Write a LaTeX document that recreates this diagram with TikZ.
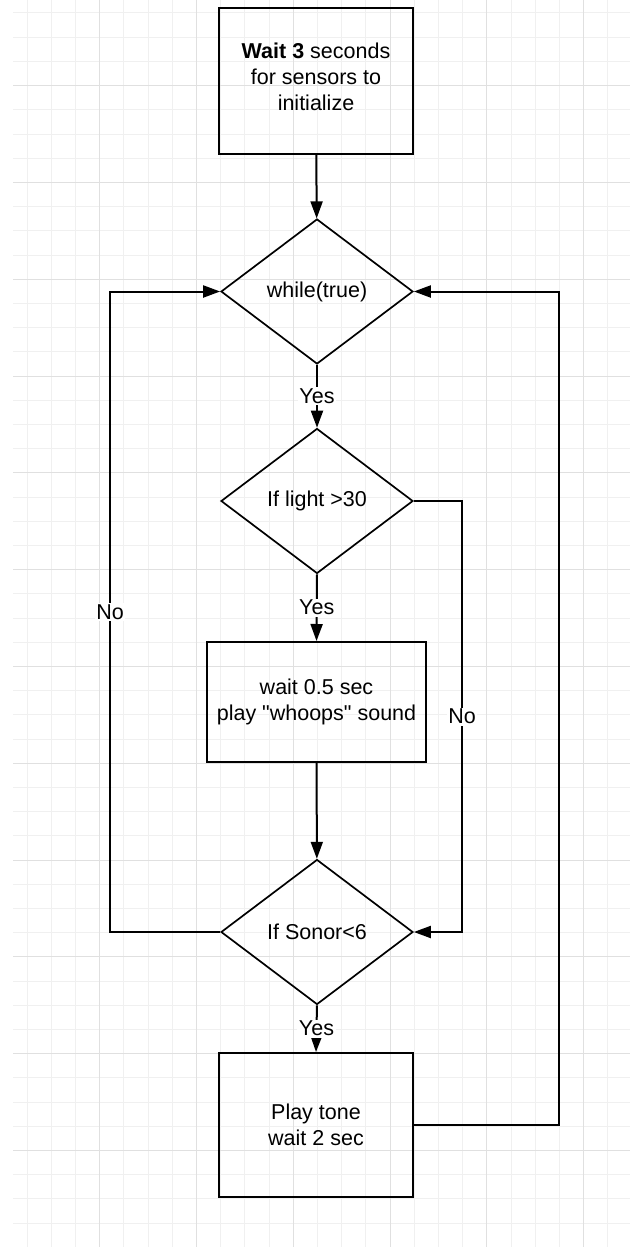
\documentclass[tikz,border=0pt]{standalone}
\usepackage{fontspec}
\newfontfamily\flowfont{Liberation Sans}
\usetikzlibrary{arrows.meta, positioning, shapes.geometric}

\begin{document}
\begin{tikzpicture}[x=1pt, y=-1pt,
		every node/.style={font=\flowfont\fontsize{21.5}{26}\selectfont, align=center},
		box/.style={draw, line width=2pt, rectangle, inner sep=0pt},
		decision/.style={draw, line width=1.7pt, diamond, aspect=1.32, inner sep=0pt,
			minimum width=192pt, minimum height=145pt},
		flow/.style={line width=2pt, -{Triangle[length=17pt, width=12pt]}},
		lbl/.style={fill=white, inner sep=1.5pt},
		gridminor/.style={line width=1pt, black!6},
		gridmajor/.style={line width=1pt, black!12}]
	
	\useasboundingbox (0,0) rectangle (638,1247);
	\fill[white] (0,0) rectangle (638,1247);
	
	% Background grid
	\foreach \k in {0,...,24}
		\draw[gridminor] ({27+24.2*\k},0) -- ({27+24.2*\k},1247);
	\foreach \k in {0,...,50}
		\draw[gridminor] (13,{13+24.2*\k}) -- (630,{13+24.2*\k});
	\foreach \k in {3,7,...,23}
		\draw[gridmajor] ({27+24.2*\k},0) -- ({27+24.2*\k},1247);
	\foreach \k in {3,7,...,47}
		\draw[gridmajor] (13,{13+24.2*\k}) -- (630,{13+24.2*\k});
	
	% Steps and decisions
	\node[box, minimum width=194pt, minimum height=146pt] (start) at (316,81)
		{\textbf{Wait 3} seconds\\for sensors to\\initialize\\[-17pt]};
	\node[decision] (loop) at (317,291.5) {while(true)};
	\node[decision] (light) at (317,501) {If light >30};
	\node[box, minimum width=219pt, minimum height=120pt] (whoops) at (316.5,702)
		{wait 0.5 sec\\play "whoops" sound};
	\node[decision] (sonor) at (317,932) {If Sonor<6};
	\node[box, minimum width=194pt, minimum height=144pt] (tone) at (316,1125)
		{Play tone\\wait 2 sec};
	
	% Rails for the loops
	\coordinate (westrail) at (110,0);
	\coordinate (norail) at (462,0);
	\coordinate (eastrail) at (559,0);
	
	% Main line
	\draw[flow] (start) -- (loop);
	\draw[flow] (loop.south) -- node[lbl] {Yes} (light.north);
	\draw[flow] (light.south) -- node[lbl] {Yes} (whoops.north);
	\draw[flow] (whoops) -- (sonor);
	\draw[flow] (sonor.south) -- node[lbl] {Yes} (tone.north);
	
	% No branches
	\draw[flow] (sonor.west) -- (sonor.west -| westrail)
		-- node[lbl] {No} (loop.west -| westrail) -- (loop.west);
	\draw[flow] (light.east) -- (light.east -| norail)
		-- node[lbl] {No} (sonor.east -| norail) -- (sonor.east);
	
	% Back to the top
	\draw[flow] (tone.east) -- (tone.east -| eastrail)
		-- (loop.east -| eastrail) -- (loop.east);
	
\end{tikzpicture}
\end{document}
